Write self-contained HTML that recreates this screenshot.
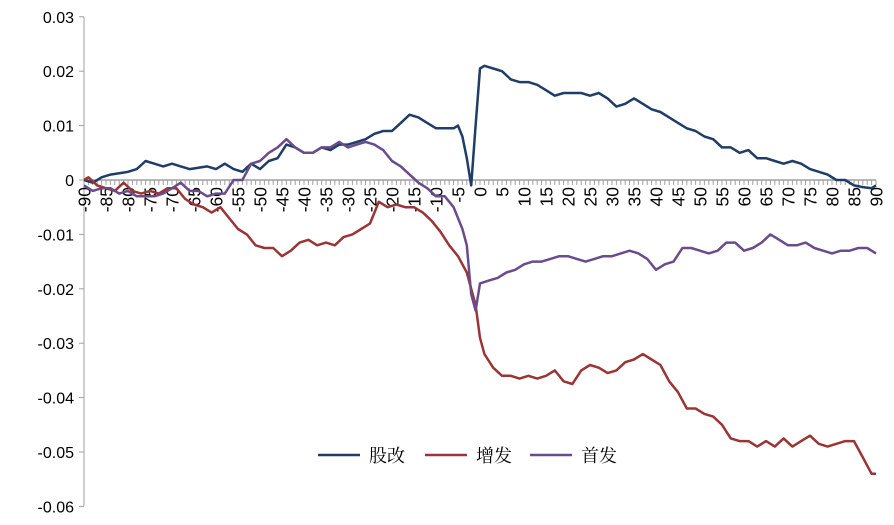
<!DOCTYPE html>
<html><head><meta charset="utf-8"><style>
body{margin:0;background:#fff}
svg{display:block;font-family:"Liberation Sans","Noto Sans CJK SC",sans-serif}
</style></head><body>
<svg id="c" width="894" height="525"></svg>
<script>
const yTicks=[0.03,0.02,0.01,0,-0.01,-0.02,-0.03,-0.04,-0.05,-0.06];
const yTickLabels=["0.03","0.02","0.01","0","-0.01","-0.02","-0.03","-0.04","-0.05","-0.06"];
const gzDays=[-90,-88,-86,-84,-80,-78,-76,-74,-72,-70,-68,-66,-62,-60,-58,-56,-54,-52,-50,-48,-46,-44,-42,-40,-38,-36,-34,-32,-30,-28,-26,-24,-22,-20,-18,-16,-14,-12,-10,-6,-5,-4,-3,-2,-1,0,1,3,5,7,9,11,13,15,17,19,21,23,25,27,29,31,33,35,37,39,41,43,45,47,49,51,53,55,57,59,61,63,65,67,69,71,73,75,77,79,81,83,85,87,89,90];
const gzVals=[0,-0.5,0.5,1,1.5,2,3.5,3,2.5,3,2.5,2,2.5,2,3,2,1.5,3,2,3.5,4,6.5,6,5,5,6,5.5,6.5,6.5,7,7.5,8.5,9,9,10.5,12,11.5,10.5,9.5,9.5,10,8,4,-1,10,20.5,21,20.5,20,18.5,18,18,17.5,16.5,15.5,16,16,16,15.5,16,15,13.5,14,15,14,13,12.5,11.5,10.5,9.5,9,8,7.5,6,6,5,5.5,4,4,3.5,3,3.5,3,2,1.5,1,0,0,-1,-1.3,-1.5,-1];
const zfDays=[-90,-89,-87,-85,-83,-81,-79,-77,-75,-73,-71,-69,-67,-65,-63,-61,-59,-57,-55,-53,-51,-49,-47,-45,-43,-41,-39,-37,-35,-33,-31,-29,-27,-25,-23,-21,-19,-17,-15,-13,-11,-9,-7,-5,-3,-2,-1,0,1,3,5,7,9,11,13,15,17,19,21,23,25,27,29,31,33,35,37,39,41,43,45,47,49,51,53,55,57,59,61,63,65,67,69,71,73,75,77,79,81,83,85,87,89,90];
const zfVals=[0,0.5,-1,-1.5,-2,-0.5,-2,-2.5,-2,-2.5,-1.5,-1.5,-3.5,-4.5,-5,-6,-5,-7,-9,-10,-12,-12.5,-12.5,-14,-13,-11.5,-11,-12,-11.5,-12,-10.5,-10,-9,-8,-4,-5,-4.5,-5,-5,-6,-7.5,-9.5,-12,-14,-17,-20,-23,-29,-32,-34.5,-36,-36,-36.5,-36,-36.5,-36,-35,-37,-37.5,-35,-34,-34.5,-35.5,-35,-33.5,-33,-32,-33,-34,-37,-39,-42,-42,-43,-43.5,-45,-47.5,-48,-48,-49,-48,-49,-47.5,-49,-48,-47,-48.5,-49,-48.5,-48,-48,-51,-54,-54];
const sfDays=[-90,-88,-86,-84,-82,-80,-78,-76,-74,-72,-70,-68,-66,-64,-62,-60,-58,-56,-54,-52,-50,-48,-46,-44,-42,-40,-38,-36,-34,-32,-30,-28,-26,-24,-22,-20,-18,-16,-14,-12,-10,-8,-6,-4,-3,-2,-1,0,2,4,6,8,10,12,14,16,18,20,22,24,26,28,30,32,34,36,38,40,42,44,46,48,50,52,54,56,58,60,62,64,66,68,70,72,74,76,78,80,82,84,86,88,90];
const sfVals=[-1,-2,-1.5,-1.5,-2.5,-2,-3,-3,-3,-2.5,-1.5,-0.5,-2,-2,-3,-2.5,-2.5,0,0,3,3.5,5,6,7.5,6,5,5,6,6,7,6,6.5,7,6.5,5.5,3.5,2.5,1,-0.5,-1.5,-3,-3,-5,-9,-12,-21,-24,-19,-18.5,-18,-17,-16.5,-15.5,-15,-15,-14.5,-14,-14,-14.5,-15,-14.5,-14,-14,-13.5,-13,-13.5,-14.5,-16.5,-15.5,-15,-12.5,-12.5,-13,-13.5,-13,-11.5,-11.5,-13,-12.5,-11.5,-10,-11,-12,-12,-11.5,-12.5,-13,-13.5,-13,-13,-12.5,-12.5,-13.5];
const seriesNames=["股改","增发","首发"];
const colors=["#1f3d66","#9b3535","#6a4c8c"];

const NS="http://www.w3.org/2000/svg";
const svg=document.getElementById('c');
const X=d=>84+(d+90)*4.4;
const Y=v=>180-v*5440;
function el(t,a,p){const e=document.createElementNS(NS,t);for(const k in a)e.setAttribute(k,a[k]);(p||svg).appendChild(e);return e;}

const ax=el('line',{x1:84,y1:17,x2:84,y2:506,stroke:'#a0a0a0','stroke-width':1});


yTicks.forEach((v,i)=>{
  const t=el('line',{x1:79,x2:84,y1:Y(v),y2:Y(v),stroke:'#a0a0a0'});
  
  
  const l=el('text',{x:74,y:Y(v)+6,'text-anchor':'end','font-size':16,fill:'#000'});
  l.textContent=yTickLabels[i];
  
  
});
const xa=el('line',{x1:84,y1:180,x2:876,y2:180,stroke:'#a0a0a0','stroke-width':1.5});


for(let d=-90;d<=90;d++){
  const t=el('line',{x1:X(d),x2:X(d),y1:180,y2:185,stroke:'#a0a0a0'});
  
  
  if(d%5===0){
    const l=el('text',{transform:`translate(${X(d)+6.5},187) rotate(-90)`,'text-anchor':'end','font-size':17.5,fill:'#000'});
    l.textContent=String(d);
    
    
  }
}
const all=[[gzDays,gzVals],[zfDays,zfVals],[sfDays,sfVals]];
const snames=['series-guzhai','series-zengfa','series-shoufa'];
all.forEach((s,i)=>{
  const pts=s[0].map((d,j)=>X(d).toFixed(1)+','+Y(s[1][j]/1000).toFixed(1)).join(' ');
  const p=el('polyline',{points:pts,fill:'none',stroke:colors[i],'stroke-width':2.5,'stroke-linejoin':'round'});
  
  
});
const lx=[318,425,530];
seriesNames.forEach((n,i)=>{
  const g=el('g',{});
  
  
  el('line',{x1:lx[i],x2:lx[i]+42,y1:455,y2:455,stroke:colors[i],'stroke-width':2.5},g);
  const t=el('text',{x:lx[i]+51,y:462,'font-size':18,fill:'#000','font-family':'"Noto Serif CJK SC","Noto Sans CJK SC",serif'},g);
  t.textContent=n;
});
</script>
</body></html>
